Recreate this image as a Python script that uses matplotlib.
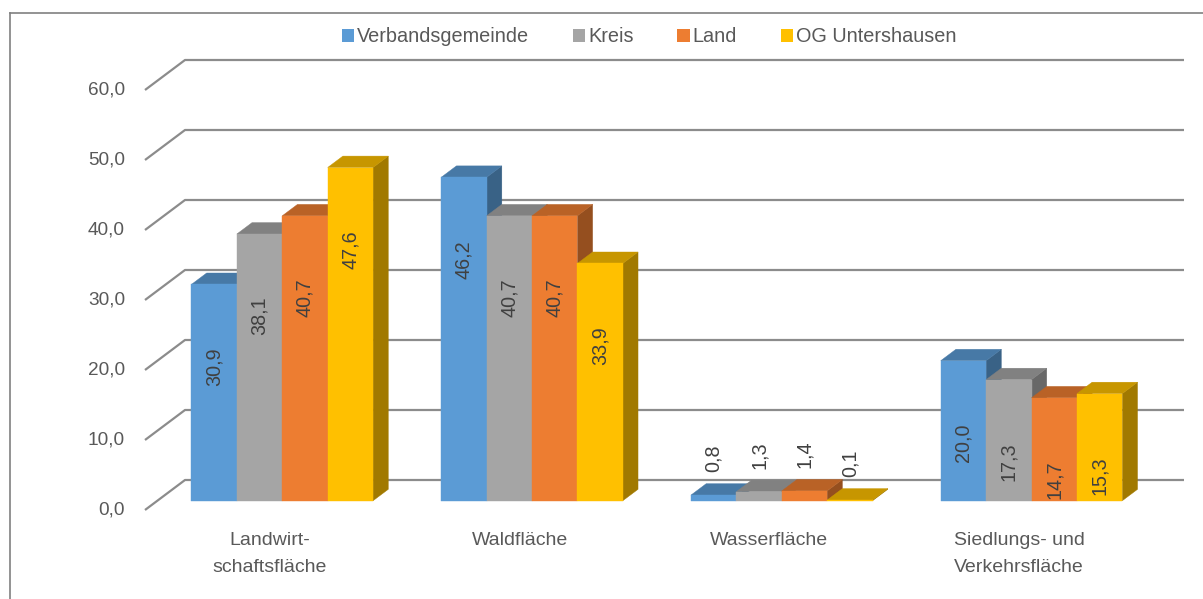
import matplotlib
matplotlib.use('Agg')
import matplotlib.pyplot as plt
from matplotlib.patches import Polygon, Patch
from matplotlib.lines import Line2D
import matplotlib.colors as mcolors

# ---------------- data ----------------
categories = ["Landwirt-\nschaftsfläche", "Waldfläche", "Wasserfläche",
              "Siedlungs- und\nVerkehrsfläche"]
series_names = ["Verbandsgemeinde", "Kreis", "Land", "OG Untershausen"]
verbandsgemeinde = [30.9, 46.2, 0.8, 20.0]
kreis = [38.1, 40.7, 1.3, 17.3]
land = [40.7, 40.7, 1.4, 14.7]
og_untershausen = [47.6, 33.9, 0.1, 15.3]
y_ticks = [0, 10, 20, 30, 40, 50, 60]
series_values = [verbandsgemeinde, kreis, land, og_untershausen]
colors = ["#5B9BD5", "#A5A5A5", "#ED7D31", "#FFC000"]

# ---------------- style ----------------
plt.rcParams['font.family'] = ['Liberation Sans', 'DejaVu Sans']
FS_TICK = 13.7
FS_CAT = 14.0
FS_LEG = 14.3
FS_VAL = 14.2
TXT = '#595959'
LBL = '#404040'
GRID = '#8c8c8c'

W, H = 1203, 599
fig = plt.figure(figsize=(W / 100, H / 100), dpi=100)
ax = fig.add_axes([0, 0, 1, 1])
PX_PER_UNIT = 7.0
Y0 = 510.0  # screen row of value 0 on the front plane
ax.set_xlim(0, W)
ax.set_ylim((Y0 - H) / PX_PER_UNIT, Y0 / PX_PER_UNIT)
ax.axis('off')

DEPTH_DX = 40.0
DEPTH_DV = 30.0 / PX_PER_UNIT
FLOOR_X0, FLOOR_X1 = 145.0, 1144.0
D0, D1 = 0.31, 0.69
BAR_W = 45.4


def proj(x, v, d):
    return (x + d * DEPTH_DX, v + d * DEPTH_DV)


# gridlines (wall + floor)
for t in y_ticks:
    pts = [proj(FLOOR_X0, t, 0), proj(FLOOR_X0, t, 1), proj(FLOOR_X1, t, 1)]
    ax.plot([p[0] for p in pts], [p[1] for p in pts], color=GRID, lw=1.6,
            solid_capstyle='butt', zorder=1)
    ax.text(FLOOR_X0 - 20, t, f"{t:.1f}".replace('.', ','), ha='right',
            va='center', fontsize=FS_TICK, color=TXT)


def shade(c, f):
    r, g, b = mcolors.to_rgb(c)
    return (r * f, g * f, b * f)


pitch = (FLOOR_X1 - FLOOR_X0) / len(categories)
z = 2
for i, cat in enumerate(categories):
    cx = FLOOR_X0 + pitch * (i + 0.5)
    ax.text(cx, (Y0 - 532) / PX_PER_UNIT, cat, ha='center', va='top',
            fontsize=FS_CAT, color=TXT, linespacing=1.8)
    n = len(series_values)
    for j, vals in enumerate(series_values):
        v = vals[i]
        xl = cx - n / 2 * BAR_W + j * BAR_W
        xr = xl + BAR_W
        c = colors[j]
        side = [proj(xr, 0, D0), proj(xr, 0, D1), proj(xr, v, D1), proj(xr, v, D0)]
        top = [proj(xl, v, D0), proj(xr, v, D0), proj(xr, v, D1), proj(xl, v, D1)]
        front = [proj(xl, 0, D0), proj(xr, 0, D0), proj(xr, v, D0), proj(xl, v, D0)]
        for poly, f in ((side, 0.63), (top, 0.78), (front, 1.0)):
            col = shade(c, f)
            ax.add_patch(Polygon(poly, closed=True, facecolor=col, edgecolor=col,
                                 lw=0.3, zorder=z))
            z += 1
        # value label
        xm = (xl + xr) / 2 + D0 * DEPTH_DX
        vf = v + D0 * DEPTH_DV
        txt = f"{v:.1f}".replace('.', ',')
        if v > 5:
            ax.text(xm, vf - 82 / PX_PER_UNIT, txt, rotation=90, ha='center',
                    va='center', fontsize=FS_VAL, color=LBL, zorder=100)
        else:
            ax.text(xm, vf + 23 / PX_PER_UNIT, txt, rotation=90, ha='center',
                    va='bottom', fontsize=FS_VAL, color=LBL, zorder=100)

# legend
handles = [Patch(facecolor=c, edgecolor='none') for c in colors]
fig.legend(handles, series_names, loc='center', bbox_to_anchor=(649 / W, 1 - 37 / H),
           ncol=4, frameon=False, handlelength=0.62, handleheight=0.62,
           handletextpad=0.15, columnspacing=2.2, fontsize=FS_LEG, labelcolor=TXT,
           borderaxespad=0, borderpad=0)

# outer frame (left and top visible)
fig.add_artist(Line2D([10 / W, 10 / W], [0, 1 - 13.3 / H], transform=fig.transFigure,
                      color='#808080', lw=1.2))
fig.add_artist(Line2D([10 / W, 1], [1 - 13.3 / H, 1 - 13.3 / H], transform=fig.transFigure,
                      color='#808080', lw=1.2))

fig.savefig('out.png', dpi=100)
